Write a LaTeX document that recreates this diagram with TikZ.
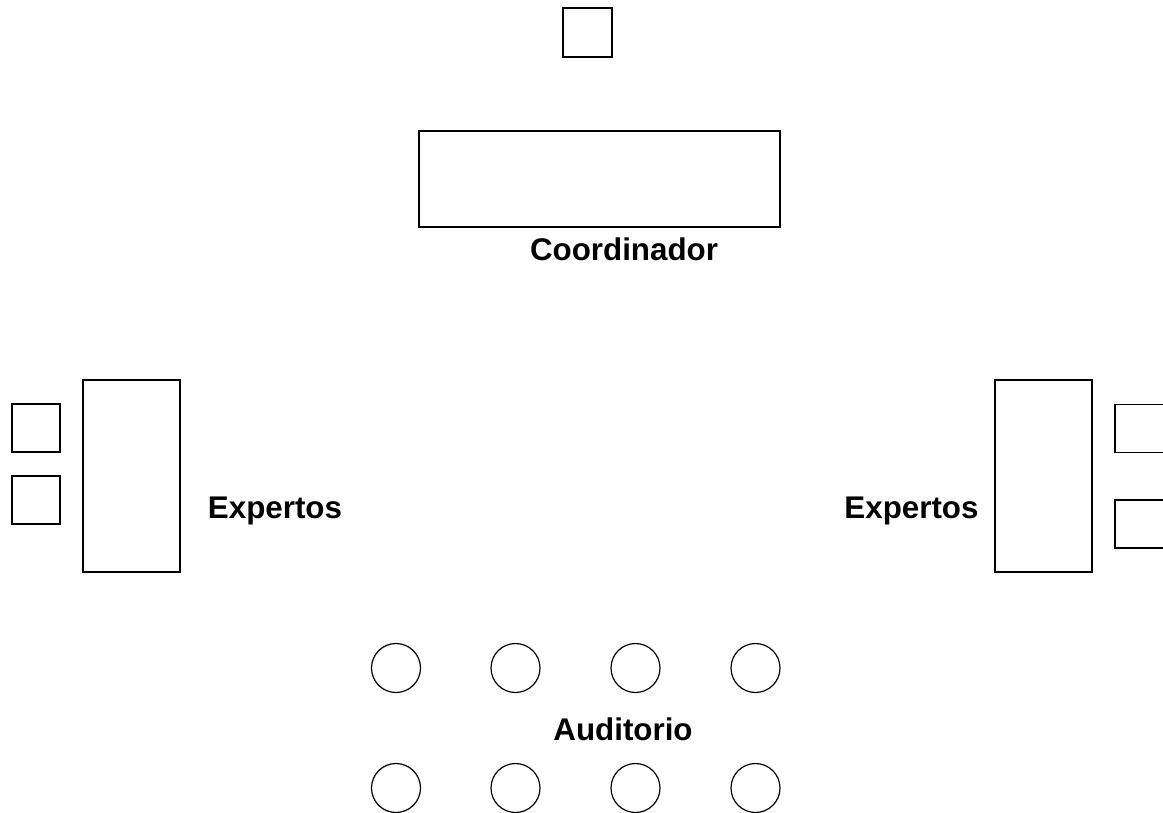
\documentclass[tikz,border=0pt]{standalone}
\usepackage{fontspec}
\setmainfont{Liberation Sans}
\usetikzlibrary{positioning}

\tikzset{
    mueble/.style={draw,line width=0.9pt,inner sep=0pt,outer sep=0pt},
    silla/.style={mueble,minimum width=36.75pt,minimum height=36.75pt},
    oyente/.style={mueble,circle,minimum size=36.75pt},
    rotulo/.style={font=\fontsize{23.5}{28}\selectfont\bfseries,inner sep=0pt,anchor=base}
}

\begin{document}
\begin{tikzpicture}[x=0.75pt,y=-0.75pt]
    \useasboundingbox (0,0) rectangle (1163,813);

    % Coordinador
    \node[silla] (sillacoord) at (587.5,32.5) {};
    \node[mueble,minimum width=270.75pt,minimum height=72pt] (mesacoord) at (599.5,179) {};
    \node[rotulo] (coord) at (624,260) {Coordinador};

    % Expertos izquierda
    \node[silla,minimum width=36pt,minimum height=36pt] (sillaizqa) at (36,428) {};
    \node[silla,minimum width=36pt,minimum height=36pt] (sillaizqb) at (36,500) {};
    \node[mueble,minimum width=72.75pt,minimum height=144pt] (mesaizq) at (131.5,476) {};
    \node[rotulo] (expizq) at (275,518) {Expertos};

    % Expertos derecha
    \node[mueble,minimum width=72.75pt,minimum height=144pt] (mesader) at (1043.5,476) {};
    \node[silla,minimum width=37.5pt,minimum height=36pt] (silladera) at (1140,428.5) {};
    \node[silla,minimum width=37.5pt,minimum height=36pt] (silladerb) at (1140,524) {};
    \node[rotulo] (expder) at (911.5,518) {Expertos};

    % Auditorio
    \node[oyente] (oya) at (396,668) {};
    \node[oyente] (oyb) at (515.5,668) {};
    \node[oyente] (oyc) at (635.5,668) {};
    \node[oyente] (oyd) at (755.5,668) {};
    \node[rotulo] (audit) at (623,740) {Auditorio};
    \node[oyente] (oye) at (396,788) {};
    \node[oyente] (oyf) at (515.5,788) {};
    \node[oyente] (oyg) at (635.5,788) {};
    \node[oyente] (oyh) at (755.5,788) {};

\end{tikzpicture}
\end{document}
